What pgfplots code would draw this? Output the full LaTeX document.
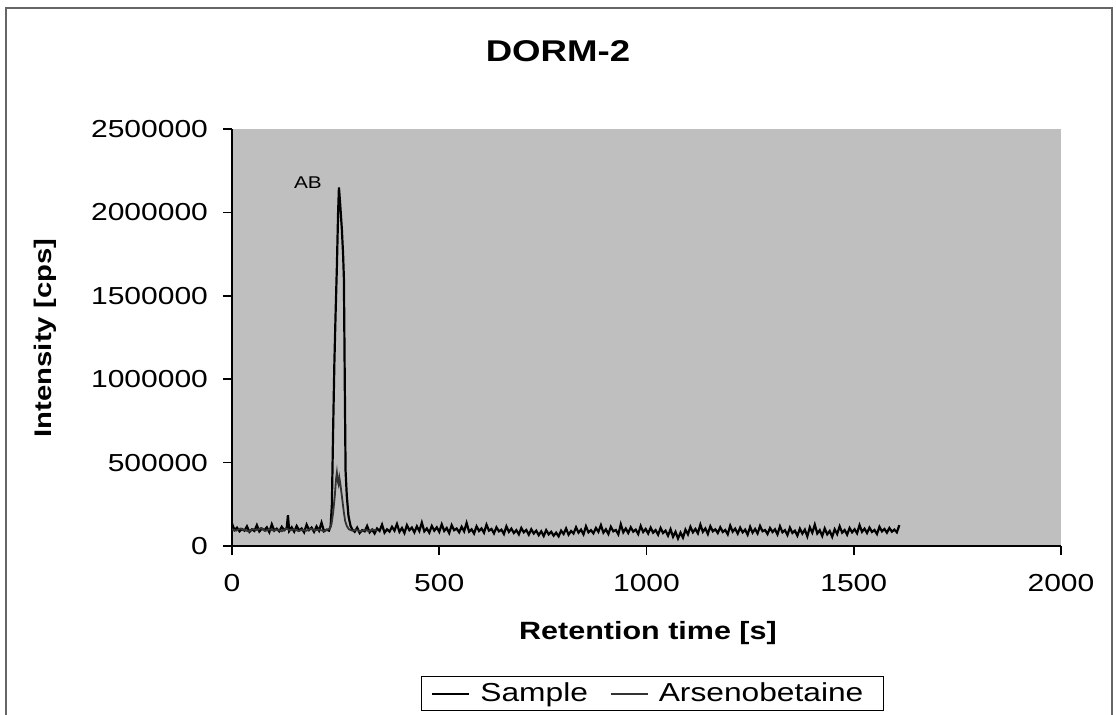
\documentclass[border=0pt]{standalone}
\usepackage{fontspec}
\setmainfont{Liberation Sans}[FakeStretch=1.22]
\usepackage{pgfplots}
\pgfplotsset{compat=1.18}

\pgfplotstableread{
t I
0 135000
6 95000
12 110000
18 88000
24 102000
30 92000
36 118000
42 85000
48 100000
54 90000
60 125000
66 87000
72 105000
78 95000
84 112000
90 83000
96 130000
102 92000
108 104000
114 88000
120 115000
126 95000
132 108000
135 185000
138 90000
144 112000
150 86000
156 120000
162 93000
168 105000
174 82000
180 128000
186 96000
192 110000
198 85000
204 117000
210 92000
216 140000
222 88000
228 98000
234 92000
238 120000
241 250000
244 700000
247 1100000
250 1400000
253 1670000
256 2000000
258 2150000
261 2050000
265 1900000
268 1750000
270 1600000
272 1000000
274 450000
277 300000
281 180000
286 120000
290 100000
296 85000
302 110000
308 78000
314 95000
320 88000
326 120000
332 82000
338 98000
344 75000
350 105000
356 90000
362 128000
368 80000
374 100000
380 86000
386 115000
392 92000
398 132000
404 85000
410 108000
416 78000
422 125000
428 95000
434 110000
440 82000
446 118000
452 90000
458 140000
464 88000
470 105000
476 80000
482 120000
488 92000
494 112000
500 85000
506 130000
512 90000
518 108000
524 78000
530 125000
536 95000
542 105000
548 82000
554 115000
560 88000
566 138000
572 86000
578 100000
584 75000
590 118000
596 90000
602 105000
608 80000
614 128000
620 92000
626 102000
632 76000
638 112000
644 88000
650 98000
656 72000
662 118000
668 85000
674 104000
680 78000
686 95000
692 70000
698 108000
704 82000
710 96000
716 68000
722 100000
728 75000
734 92000
740 65000
746 88000
752 60000
758 95000
764 70000
770 85000
776 62000
782 80000
788 58000
794 92000
800 72000
806 105000
812 68000
818 90000
824 75000
830 112000
836 80000
842 98000
848 70000
854 118000
860 82000
866 95000
872 76000
878 108000
884 85000
890 125000
896 80000
902 100000
908 72000
914 115000
920 88000
926 96000
932 70000
938 130000
944 82000
950 105000
956 78000
962 112000
968 86000
974 98000
980 72000
986 120000
992 84000
998 102000
1004 75000
1010 110000
1016 80000
1022 95000
1028 68000
1034 108000
1040 78000
1046 92000
1052 62000
1058 100000
1064 55000
1070 85000
1076 45000
1082 80000
1088 50000
1094 98000
1100 70000
1106 115000
1112 82000
1118 102000
1124 76000
1130 128000
1136 85000
1142 105000
1148 72000
1154 118000
1160 88000
1166 100000
1172 78000
1178 112000
1184 84000
1190 96000
1196 70000
1202 122000
1208 86000
1214 104000
1220 74000
1226 110000
1232 82000
1238 98000
1244 68000
1250 115000
1256 80000
1262 102000
1268 75000
1274 120000
1280 88000
1286 96000
1292 72000
1298 108000
1304 84000
1310 100000
1316 70000
1322 118000
1328 82000
1334 95000
1340 66000
1346 110000
1352 78000
1358 92000
1364 62000
1370 104000
1376 74000
1382 98000
1388 58000
1394 112000
1400 80000
1406 128000
1412 75000
1418 95000
1424 60000
1430 105000
1436 70000
1442 90000
1448 55000
1454 100000
1460 72000
1466 118000
1472 80000
1478 96000
1484 68000
1490 108000
1496 82000
1502 100000
1508 76000
1514 125000
1520 85000
1526 104000
1532 78000
1538 110000
1544 84000
1550 96000
1556 72000
1562 115000
1568 88000
1574 102000
1580 80000
1586 108000
1592 86000
1598 98000
1604 82000
1610 125000
}\sample

\pgfplotstableread{
t I
0 100000
10 92000
20 105000
30 96000
40 88000
50 102000
60 95000
70 108000
80 90000
90 100000
100 93000
110 98000
120 88000
130 104000
140 95000
150 100000
160 90000
170 97000
180 92000
190 103000
200 94000
210 99000
220 90000
230 98000
236 105000
240 130000
244 200000
248 300000
251 400000
253 440000
255 390000
257 370000
259 410000
261 380000
264 320000
267 260000
270 200000
273 150000
277 120000
282 100000
290 92000
300 96000
310 88000
320 95000
330 90000
340 98000
350 92000
}\arsenobetaine

\begin{document}
\begin{tikzpicture}
\path[use as bounding box] (0,0) rectangle (558pt,357pt);
\draw[black!60, line width=0.8pt] (3pt,-2pt) -- (3pt,353pt) -- (556pt,353pt) -- (556pt,-2pt);
\node[font=\fontsize{15}{18}\selectfont\bfseries] at (279pt,331.5pt) {DORM-2};
\node[font=\fontsize{12}{15}\selectfont\bfseries, rotate=90] at (22.5pt,188pt) {Intensity [cps]};
\node[font=\fontsize{12.5}{15}\selectfont\bfseries] at (324pt,40.5pt) {Retention time [s]};
\begin{axis}[
  at={(116pt,84pt)},
  scale only axis, width=414.5pt, height=208.5pt,
  xmin=0, xmax=2000, ymin=0, ymax=2500000,
  xtick={0,500,1000,1500,2000},
  ytick={0,500000,1000000,1500000,2000000,2500000},
  scaled y ticks=false,
  /pgf/number format/fixed,
  /pgf/number format/precision=0,
  /pgf/number format/assume math mode=true,
  /pgf/number format/1000 sep={},
  axis x line*=bottom, axis y line*=left,
  axis line style={black, line width=0.8pt, -},
  tick align=outside, major tick length=4.5pt,
  tick style={black, line width=0.8pt},
  tick label style={font=\fontsize{12.3}{15}\selectfont},
  xticklabel style={yshift=-6pt},
  yticklabel style={xshift=-4pt},
  axis background/.style={fill=black!25},
  clip=false,
  legend columns=2,
  legend style={at={(0.507,-0.354)}, anchor=center, draw=black, fill=white,
    font=\fontsize{13}{15}\selectfont, inner xsep=5pt, inner ysep=1pt,
    nodes={inner xsep=5pt},
    /tikz/every even column/.append style={column sep=6pt}},
  legend image code/.code={\draw[#1] (0pt,0pt) -- (18.5pt,0pt);},
]
\addplot[black, line width=1.1pt] table[x=t, y=I] {\sample};
\addlegendentry{Sample}
\addplot[black!80, line width=0.9pt] table[x=t, y=I] {\arsenobetaine};
\addlegendentry{Arsenobetaine}
\node[font=\fontsize{8.5}{10}\selectfont] at (axis cs:183,2180000) {AB};
\end{axis}
\end{tikzpicture}
\end{document}
